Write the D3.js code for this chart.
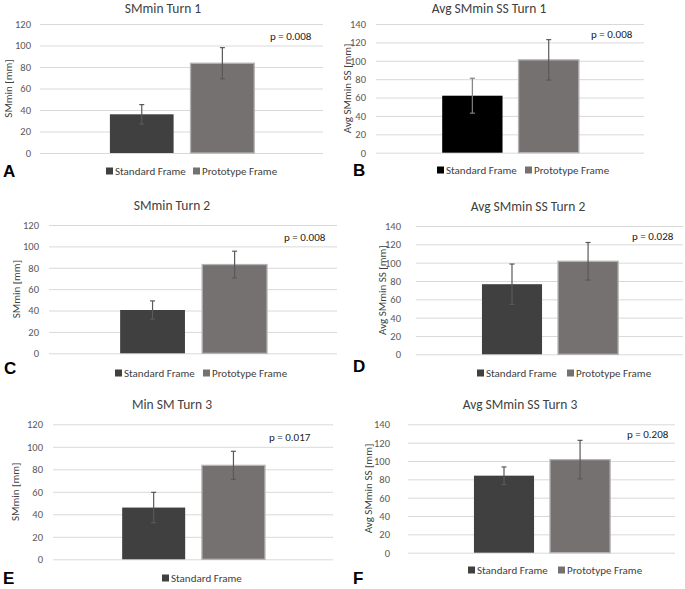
<!DOCTYPE html>
<html>
<head>
<meta charset="utf-8">
<script src="https://cdn.jsdelivr.net/npm/d3@7"></script>
<style>
  html, body { margin: 0; padding: 0; background: #fff; }
  svg { display: block; font-family: Carlito, Lato, "Open Sans", sans-serif; }
</style>
</head>
<body>
<svg id="chart" width="685" height="589"></svg>
<script>
// ---------------- data ----------------
const panelLetters = ["A", "B", "C", "D", "E", "F"];
const panelTitles = ["SMmin Turn 1", "Avg SMmin SS Turn 1", "SMmin Turn 2", "Avg SMmin SS Turn 2", "Min SM Turn 3", "Avg SMmin SS Turn 3"];
const yAxisLabels = ["SMmin [mm]", "Avg SMmin SS [mm]", "SMmin [mm]", "Avg SMmin SS [mm]", "SMmin [mm]", "Avg SMmin SS [mm]"];
const yMaxValues = [120, 140, 120, 140, 120, 140];
const seriesNames = ["Standard Frame", "Prototype Frame"];
const standardMeans = [36, 62, 40.5, 76.5, 46, 84];
const standardErrors = [9, 19, 8.5, 22, 13.5, 9.5];
const prototypeMeans = [83.5, 101, 83, 101.5, 83.5, 101.5];
const prototypeErrors = [14.5, 22, 12.5, 20.5, 12.5, 21];
const pValueLabels = ["p = 0.008", "p = 0.008", "p = 0.008", "p = 0.028", "p = 0.017", "p = 0.208"];
const legendEntries = [seriesNames, seriesNames, seriesNames, seriesNames, [seriesNames[0]], seriesNames];

// ---------------- layout (pixels) ----------------
const layout = [
  { gx0: 40,  gx1: 323, yTop: 24,  yBot: 153,   tickR: 31,  ylabX: 8.5, titleX: 163, titleY: 13,  pX: 270, pY: 40,  legY: 171, legX: [106, 193], letX: 3,   letY: 177, stdColor: "#404040", stdErr: "#595959" },
  { gx0: 376, gx1: 644, yTop: 24,  yBot: 152.7, tickR: 366, ylabX: 347, titleX: 489, titleY: 13,  pX: 591, pY: 38,  legY: 170, legX: [437, 525], letX: 353, letY: 176, stdColor: "#000000", stdErr: "#808080" },
  { gx0: 49,  gx1: 337, yTop: 225, yBot: 353.3, tickR: 39,  ylabX: 16,  titleX: 172, titleY: 210, pX: 284, pY: 241, legY: 373, legX: [115, 203], letX: 4,   letY: 374, stdColor: "#404040", stdErr: "#595959" },
  { gx0: 416, gx1: 683, yTop: 226, yBot: 354.3, tickR: 401, ylabX: 382, titleX: 528, titleY: 211, pX: 632, pY: 240, legY: 373, legX: [477, 567], letX: 353, letY: 372, stdColor: "#404040", stdErr: "#595959" },
  { gx0: 53,  gx1: 333, yTop: 424.3, yBot: 559.3, tickR: 43, ylabX: 15,  titleX: 172, titleY: 409, pX: 269, pY: 441, legY: 578, legX: [162],      letX: 3,   letY: 584, stdColor: "#404040", stdErr: "#595959" },
  { gx0: 408, gx1: 675, yTop: 424.3, yBot: 552.7, tickR: 390, ylabX: 368, titleX: 520, titleY: 409, pX: 627, pY: 438, legY: 570, legX: [468, 558], letX: 353, letY: 584, stdColor: "#404040", stdErr: "#595959" }
];
const protoColor = "#767171";
const protoStroke = "#b4b2b2";

// ---------------- drawing ----------------
const svg = d3.select("#chart");

panelLetters.forEach((letter, i) => {
  const L = layout[i];
  const g = svg.append("g");
  const y = d3.scaleLinear().domain([0, yMaxValues[i]]).range([L.yBot, L.yTop]);
  const w = L.gx1 - L.gx0;
  const x = d3.scaleBand().domain(seriesNames)
    .range([L.gx0 + 0.247 * w, L.gx0 + 0.757 * w])
    .paddingInner(0.21).paddingOuter(0);

  // axis + gridlines
  const axis = d3.axisLeft(y).tickValues(d3.range(0, yMaxValues[i] + 1, 20))
    .tickSizeInner(-w).tickSizeOuter(0).tickPadding(L.gx0 - L.tickR);
  const ag = g.append("g").attr("transform", `translate(${L.gx0},0)`).call(axis);
  ag.select(".domain").remove();
  ag.selectAll(".tick line").attr("stroke", "#d9d9d9").attr("stroke-width", 1);
  ag.selectAll(".tick text").attr("fill", "#595959").style("font-size", "10.5px")
    .style("font-family", "Carlito, Lato, sans-serif");

  // bars
  const rows = [
    { name: seriesNames[0], v: standardMeans[i], e: standardErrors[i], fill: L.stdColor, stroke: "none", ec: L.stdErr },
    { name: seriesNames[1], v: prototypeMeans[i], e: prototypeErrors[i], fill: protoColor, stroke: protoStroke, ec: "#595959" }
  ];
  g.selectAll("rect.bar").data(rows).enter().append("rect")
    .attr("class", "bar")
    .attr("x", d => x(d.name))
    .attr("width", x.bandwidth())
    .attr("y", d => y(d.v))
    .attr("height", d => y(0) - y(d.v))
    .attr("fill", d => d.fill)
    .attr("stroke", d => d.stroke)
    .attr("stroke-width", 1.3);

  // error bars
  const eb = g.selectAll("g.err").data(rows).enter().append("g").attr("class", "err")
    .attr("stroke", d => d.ec).attr("stroke-width", 1.2);
  const cx = d => x(d.name) + x.bandwidth() / 2;
  eb.append("line").attr("x1", cx).attr("x2", cx)
    .attr("y1", d => y(d.v + d.e)).attr("y2", d => y(d.v - d.e));
  eb.append("line").attr("x1", d => cx(d) - 2.5).attr("x2", d => cx(d) + 2.5)
    .attr("y1", d => y(d.v + d.e)).attr("y2", d => y(d.v + d.e));
  eb.append("line").attr("x1", d => cx(d) - 2.5).attr("x2", d => cx(d) + 2.5)
    .attr("y1", d => y(d.v - d.e)).attr("y2", d => y(d.v - d.e));

  // title
  g.append("text").attr("x", L.titleX).attr("y", L.titleY).attr("text-anchor", "middle")
    .attr("fill", "#404040").style("font-size", "13.5px").text(panelTitles[i]);

  // y-axis label
  g.append("text").attr("transform", `translate(${L.ylabX},${(L.yTop + L.yBot) / 2}) rotate(-90)`)
    .attr("text-anchor", "middle").attr("dominant-baseline", "central")
    .attr("fill", "#404040").style("font-size", "11px").text(yAxisLabels[i]);

  // p value
  g.append("text").attr("x", L.pX).attr("y", L.pY).attr("fill", "#1a1a1a")
    .style("font-size", "11px").text(pValueLabels[i]);

  // legend
  legendEntries[i].forEach((name, k) => {
    const lx = L.legX[k];
    g.append("rect").attr("x", lx).attr("y", L.legY - 3.5).attr("width", 7).attr("height", 7)
      .attr("fill", k === 0 ? L.stdColor : protoColor);
    g.append("text").attr("x", lx + 9).attr("y", L.legY).attr("dominant-baseline", "central")
      .attr("fill", "#404040").style("font-size", "11px").text(name);
  });

  // panel letter
  g.append("text").attr("x", L.letX).attr("y", L.letY).attr("fill", "#000")
    .style("font-family", "Liberation Sans, Arial, sans-serif").style("font-weight", "bold")
    .style("font-size", "17px").text(letter);
});
</script>
</body>
</html>
